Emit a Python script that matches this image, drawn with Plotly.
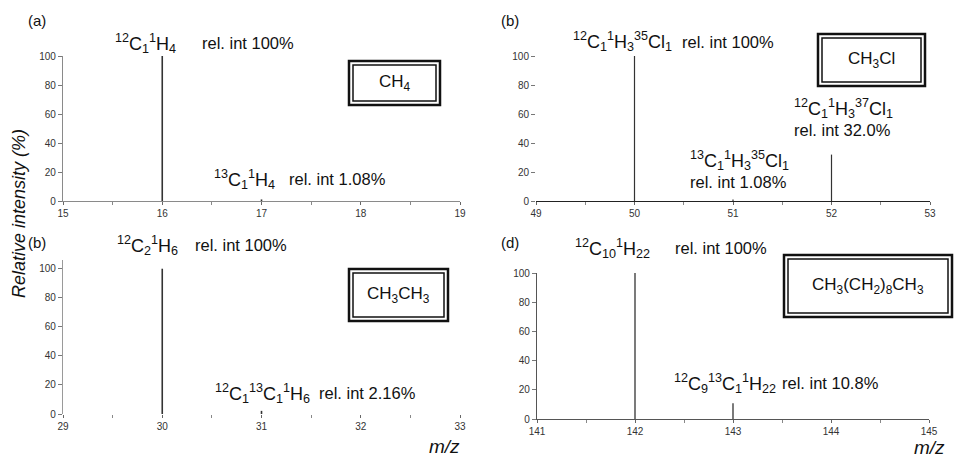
import plotly.graph_objects as go

W, H = 958, 457

# ---------------- data ----------------
mz_a = [16, 17]
int_a = [100, 1.08]
mz_b = [50, 51, 52]
int_b = [100, 1.08, 32.0]
mz_c = [30, 31]
int_c = [100, 2.16]
mz_d = [142, 143]
int_d = [100, 10.8]

xticks_a = [15, 16, 17, 18, 19]
xticks_b = [49, 50, 51, 52, 53]
xticks_c = [29, 30, 31, 32, 33]
xticks_d = [141, 142, 143, 144, 145]
yticks = [0, 20, 40, 60, 80, 100]

panel_labels = ["(a)", "(b)", "(b)", "(d)"]
compounds = ["CH<sub>4</sub>", "CH<sub>3</sub>Cl", "CH<sub>3</sub>CH<sub>3</sub>",
             "CH<sub>3</sub>(CH<sub>2</sub>)<sub>8</sub>CH<sub>3</sub>"]

formulas_a = ["<sup>12</sup>C<sub>1</sub><sup>1</sup>H<sub>4</sub>",
              "<sup>13</sup>C<sub>1</sub><sup>1</sup>H<sub>4</sub>"]
relint_a = ["rel. int 100%", "rel. int 1.08%"]
formulas_b = ["<sup>12</sup>C<sub>1</sub><sup>1</sup>H<sub>3</sub><sup>35</sup>Cl<sub>1</sub>",
              "<sup>13</sup>C<sub>1</sub><sup>1</sup>H<sub>3</sub><sup>35</sup>Cl<sub>1</sub>",
              "<sup>12</sup>C<sub>1</sub><sup>1</sup>H<sub>3</sub><sup>37</sup>Cl<sub>1</sub>"]
relint_b = ["rel. int 100%", "rel. int 1.08%", "rel. int 32.0%"]
formulas_c = ["<sup>12</sup>C<sub>2</sub><sup>1</sup>H<sub>6</sub>",
              "<sup>12</sup>C<sub>1</sub><sup>13</sup>C<sub>1</sub><sup>1</sup>H<sub>6</sub>"]
relint_c = ["rel. int 100%", "rel. int 2.16%"]
formulas_d = ["<sup>12</sup>C<sub>10</sub><sup>1</sup>H<sub>22</sub>",
              "<sup>12</sup>C<sub>9</sub><sup>13</sup>C<sub>1</sub><sup>1</sup>H<sub>22</sub>"]
relint_d = ["rel. int 100%", "rel. int 10.8%"]

y_title = "Relative intensity (%)"
x_title = "m/z"

# ---------------- helpers ----------------
def px(x):
    return x / W

def py(y):
    return 1 - y / H

def sticks(xs, ys):
    X, Y = [], []
    for a, b in zip(xs, ys):
        X += [a, a, None]
        Y += [0, b, None]
    return X, Y

FONT = "Liberation Sans, Arial, Helvetica, sans-serif"
fig = go.Figure()

panels = [
    # data, ticks, xdom px, ydom px (y0, ytop), yrange top, line width, xline, yline
    (mz_a, int_a, xticks_a, (63, 460), (201, 56), 100, 1.6, "#8a8a8a", "#8a8a8a"),
    (mz_b, int_b, xticks_b, (536, 930), (201, 56), 100, 1.2, "#222222", None),
    (mz_c, int_c, xticks_c, (63, 460), (414, 260), 106, 1.6, None, "#9a9a9a"),
    (mz_d, int_d, xticks_d, (537, 929), (419, 273), 100, 1.3, "#555555", "#555555"),
]

for i, (xs, ys, xt, xd, yd, ytop, lw, xline, yline) in enumerate(panels):
    n = "" if i == 0 else str(i + 1)
    X, Y = sticks(xs, ys)
    fig.add_trace(go.Scatter(x=X, y=Y, mode="lines", xaxis="x" + n, yaxis="y" + n,
                             line=dict(color="#333333", width=lw), showlegend=False,
                             hoverinfo="skip"))
    fig.update_layout(**{
        "xaxis" + n: dict(domain=[px(xd[0]), px(xd[1])], range=[xt[0], xt[-1]],
                          tickvals=xt, showgrid=False, zeroline=False, automargin=False,
                          showline=xline is not None, linecolor=xline or "#555",
                          linewidth=1.2, ticks="outside", ticklen=3,
                          tickcolor="#666", anchor="y" + n,
                          tickfont=dict(size=10, color="#333", family=FONT),
                          minor=dict(dtick=0.5, tick0=xt[0], ticks="outside",
                                     ticklen=3, tickcolor="#888"),
                          fixedrange=True),
        "yaxis" + n: dict(domain=[py(yd[0]), py(yd[1])], range=[0, ytop],
                          tickvals=yticks, showgrid=False, zeroline=False, automargin=False,
                          showline=yline is not None, linecolor=yline or "#555",
                          linewidth=1.2, ticks="outside", ticklen=4,
                          tickcolor="#777", anchor="x" + n,
                          tickfont=dict(size=10, color="#333", family=FONT),
                          fixedrange=True),
    })

ann = []

def text(x, y, t, size=16.5, anchor="left", **kw):
    ann.append(dict(x=px(x), y=py(y), xref="paper", yref="paper", text=t,
                    showarrow=False, xanchor=anchor, yanchor="middle",
                    font=dict(size=size, color="#111", family=FONT), **kw))

FS = 18
# panel a
text(113, 43, formulas_a[0], FS); text(200, 43, relint_a[0])
text(212, 179, formulas_a[1], FS); text(287, 179, relint_a[1])
# panel b
text(571, 42, formulas_b[0], FS); text(680, 42, relint_b[0])
text(688, 160, formulas_b[1], FS); text(688, 182, relint_b[1])
text(792, 108, formulas_b[2], FS); text(792, 130, relint_b[2])
# panel c
text(115, 245, formulas_c[0], FS); text(193, 245, relint_c[0])
text(213, 393, formulas_c[1], FS); text(317, 393, relint_c[1])
# panel d
text(573, 248, formulas_d[0], FS); text(673, 248, relint_d[0])
text(672, 383, formulas_d[1], FS); text(780, 383, relint_d[1])

# panel labels
for (x, y), t in zip([(37, 20), (510, 20), (37, 243), (510, 242)], panel_labels):
    text(x, y, t, 15, anchor="center")

# compound boxes
boxes = [(348, 60, 441, 106), (817, 33, 926, 87), (348, 268, 449, 322), (783, 254, 953, 318)]
shapes = []
for (x0, y0, x1, y1), c in zip(boxes, compounds):
    shapes.append(dict(type="rect", xref="paper", yref="paper",
                       x0=px(x0 + 1), x1=px(x1 - 1), y0=py(y0 + 1), y1=py(y1 - 1),
                       line=dict(color="#111", width=2.5)))
    shapes.append(dict(type="rect", xref="paper", yref="paper",
                       x0=px(x0 + 5), x1=px(x1 - 5), y0=py(y0 + 5), y1=py(y1 - 5),
                       line=dict(color="#111", width=1.5)))
    text((x0 + x1) / 2, (y0 + y1) / 2, c, 17, anchor="center")

# axis titles
text(19, 214, "<i>" + y_title + "</i>", 18, anchor="center", textangle=-90)
text(444, 446, "<i>" + x_title + "</i>", 19, anchor="center")
text(929, 447, "<i>" + x_title + "</i>", 19, anchor="center")

fig.update_layout(width=W, height=H, margin=dict(l=0, r=0, t=0, b=0),
                  paper_bgcolor="white", plot_bgcolor="white",
                  annotations=ann, shapes=shapes, showlegend=False)

fig.write_html("out.html")
